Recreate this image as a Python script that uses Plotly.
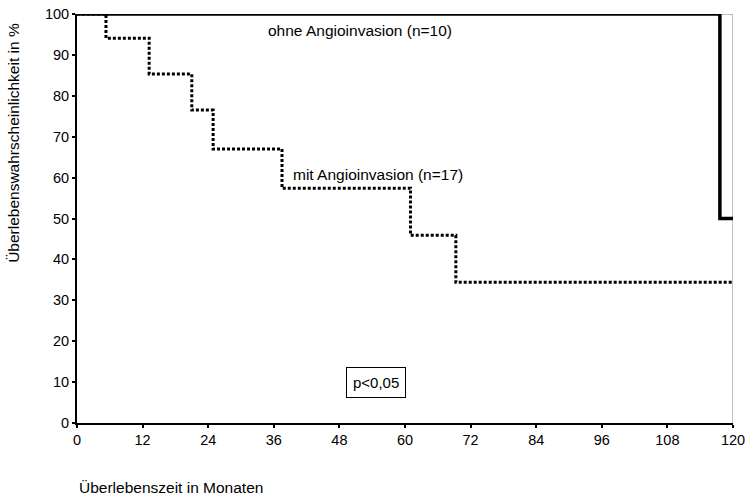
import plotly.graph_objects as go

# Kaplan-Meier step data (months, survival %)
mit_months = [0, 5.3, 13.2, 21.0, 24.9, 37.5, 61.0, 69.3, 120]
mit_surv = [100, 94.1, 85.3, 76.5, 67.0, 57.4, 45.9, 34.4, 34.4]

ohne_months = [0, 117.6, 120]
ohne_surv = [100, 50, 50]

x_ticks = [0, 12, 24, 36, 48, 60, 72, 84, 96, 108, 120]
y_ticks = [0, 10, 20, 30, 40, 50, 60, 70, 80, 90, 100]

FONT = "Liberation Sans, Arial, sans-serif"

fig = go.Figure()

fig.add_trace(go.Scatter(
    x=mit_months, y=mit_surv, mode="lines", line_shape="hv",
    line=dict(color="black", width=3, dash="3px,2px"),
    cliponaxis=False, hoverinfo="skip", showlegend=False))

# thin right-hand follow-up border at 120 months
fig.add_trace(go.Scatter(
    x=[ohne_months[1], 120, 120], y=[100, 100, 0], mode="lines",
    line=dict(color="#808080", width=1),
    cliponaxis=False, hoverinfo="skip", showlegend=False))

fig.add_trace(go.Scatter(
    x=ohne_months, y=ohne_surv, mode="lines", line_shape="hv",
    line=dict(color="black", width=3.5),
    cliponaxis=False, hoverinfo="skip", showlegend=False))

fig.add_annotation(x=51.8, y=96, text="ohne Angioinvasion (n=10)",
                   showarrow=False, xanchor="center", yanchor="middle",
                   font=dict(family=FONT, size=15.5, color="black"))
fig.add_annotation(x=39.2, y=60.8, text="mit Angioinvasion (n=17)",
                   showarrow=False, xanchor="left", yanchor="middle",
                   font=dict(family=FONT, size=15.5, color="black"))
fig.add_annotation(x=54.7, y=9.8, text="p<0,05",
                   showarrow=False, xanchor="center", yanchor="middle",
                   bordercolor="black", borderwidth=1, borderpad=6,
                   bgcolor="white",
                   font=dict(family=FONT, size=15, color="black"))

# axis titles
fig.add_annotation(x=0, y=0, xref="paper", yref="paper", yshift=-64,
                   text="Überlebenszeit in Monaten", showarrow=False,
                   xanchor="left", yanchor="middle",
                   font=dict(family=FONT, size=15.5, color="black"))
fig.add_annotation(x=0, y=68.5, xref="paper", yref="y", xshift=-63,
                   text="Überlebenswahrscheinlichkeit in %", showarrow=False,
                   textangle=-90, xanchor="center", yanchor="middle",
                   font=dict(family=FONT, size=15.5, color="black"))

fig.update_xaxes(range=[0, 120], tickvals=x_ticks, ticktext=[str(v) for v in x_ticks],
                 showgrid=False, zeroline=False, showline=True, linecolor="black",
                 linewidth=1.5, ticks="outside", ticklen=3, tickwidth=2, tickcolor="black",
                 automargin=False, ticklabeloverflow="allow",
                 tickfont=dict(family=FONT, size=14.5, color="black"))
fig.update_yaxes(range=[0, 100], tickvals=y_ticks, ticktext=[str(v) for v in y_ticks],
                 showgrid=False, zeroline=False, showline=True, linecolor="black",
                 linewidth=2, ticks="outside", ticklen=3, tickwidth=2, tickcolor="black",
                 automargin=False, ticklabeloverflow="allow",
                 tickfont=dict(family=FONT, size=14.5, color="black"))

fig.update_layout(width=745, height=495,
                  margin=dict(l=77, r=12, t=14, b=72),
                  paper_bgcolor="white", plot_bgcolor="white")

fig.write_html("out.html")
